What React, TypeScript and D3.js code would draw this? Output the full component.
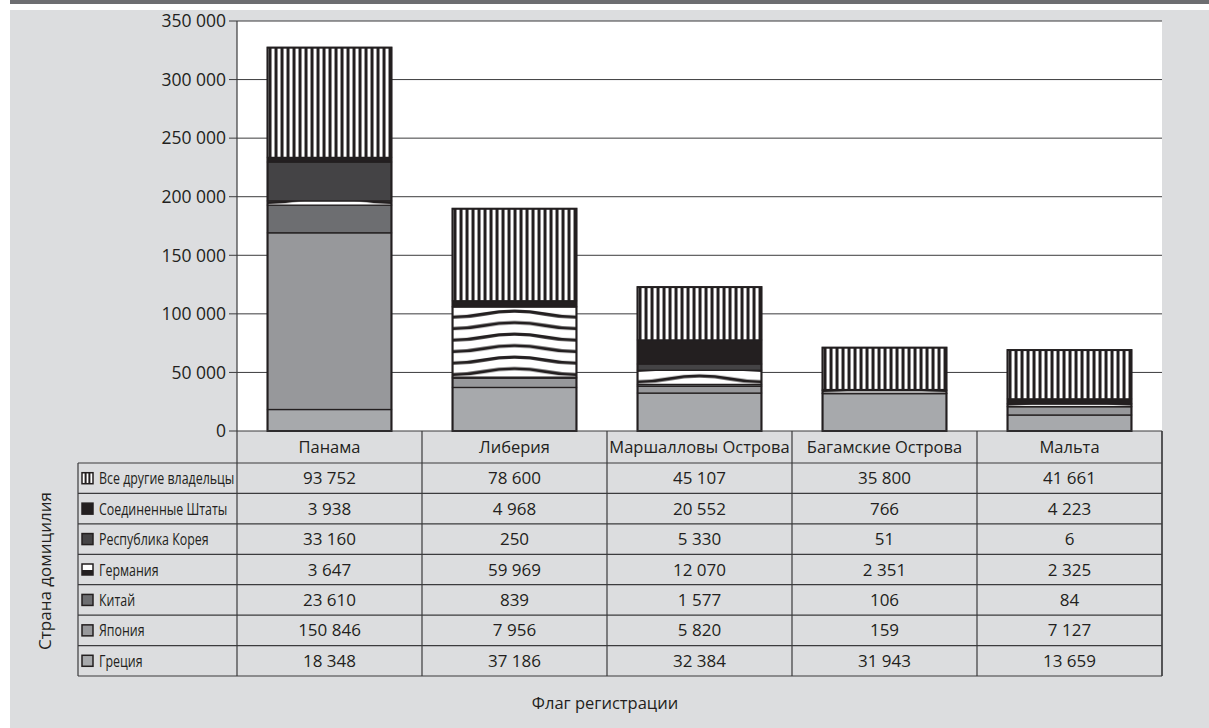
import React from "react";
import * as d3 from "d3";

const categories = ["Панама", "Либерия", "Маршалловы Острова", "Багамские Острова", "Мальта"];

// series values (per category)
const greece = [18348, 37186, 32384, 31943, 13659];
const japan = [150846, 7956, 5820, 159, 7127];
const china = [23610, 839, 1577, 106, 84];
const germany = [3647, 59969, 12070, 2351, 2325];
const korea = [33160, 250, 5330, 51, 6];
const usa = [3938, 4968, 20552, 766, 4223];
const others = [93752, 78600, 45107, 35800, 41661];

const seriesNames = ["Греция", "Япония", "Китай", "Германия", "Республика Корея", "Соединенные Штаты", "Все другие владельцы"];
const seriesKeys = ["greece", "japan", "china", "germany", "korea", "usa", "others"];
const seriesValues = [greece, japan, china, germany, korea, usa, others];

const yTicks = [0, 50000, 100000, 150000, 200000, 250000, 300000, 350000];

const W = 1209;
const H = 728;
const plotL = 237;
const plotR = 1162;
const plotT = 21;
const plotB = 431;
const headerB = 463;
const tableB = 676;
const tableL = 78;

const ink = "#231f20";
const bg = "#dcdddf";

const fmt = d3.formatLocale({ decimal: ",", thousands: " ", grouping: [3], currency: ["", ""] }).format(",d");

const solidFill: Record<string, string> = {
  greece: "#a7a9ac",
  japan: "#97989b",
  china: "#6d6e71",
  korea: "#444345",
  usa: "#231f20",
};

export default function App() {
  const x = d3.scaleBand<string>().domain(categories).range([plotL, plotR]).paddingInner(0.33).paddingOuter(0.165);
  const colStep = (plotR - plotL) / categories.length;
  const y = d3.scaleLinear().domain([0, 350000]).range([plotB, plotT]);

  const rows = categories.map((c, i) => {
    const r: Record<string, any> = { cat: c };
    seriesKeys.forEach((k, j) => (r[k] = seriesValues[j][i]));
    return r;
  });
  const stacked = d3.stack<any>().keys(seriesKeys)(rows);

  const fillFor = (key: string, ci: number) => {
    if (key === "germany") return `url(#wave-${ci})`;
    if (key === "others") return `url(#stripe-${ci})`;
    return solidFill[key];
  };

  const tableOrder = [...seriesKeys.map((k, j) => j)].reverse();
  const rowH = (tableB - headerB) / tableOrder.length;

  const font = "'Open Sans', 'DejaVu Sans', sans-serif";

  return (
    <svg width={W} height={H} style={{ position: "absolute", left: 0, top: 0 }} xmlns="http://www.w3.org/2000/svg">
      <defs>
        {categories.map((c, ci) => {
          const bx = x(c)!;
          const bw = x.bandwidth();
          const ph = 11.5;
          return (
            <React.Fragment key={c}>
              <pattern id={`stripe-${ci}`} patternUnits="userSpaceOnUse" x={bx + 1} y={0} width={6} height={10}>
                <rect x={0} y={0} width={6} height={10} fill="#fff" />
                <rect x={0} y={0} width={3} height={10} fill={ink} />
              </pattern>
              <pattern id={`wave-${ci}`} patternUnits="userSpaceOnUse" x={bx} y={y(greece[ci] + japan[ci] + china[ci])} width={bw} height={ph}>
                <rect x={0} y={0} width={bw} height={ph} fill="#fff" />
                {[-ph, 0, ph].map((o) => (
                  <path
                    key={o}
                    d={`M0,${9 + o} C${bw / 4},${9 + o} ${bw / 4},${3 + o} ${bw / 2},${3 + o} C${(3 * bw) / 4},${3 + o} ${(3 * bw) / 4},${9 + o} ${bw},${9 + o}`}
                    fill="none"
                    stroke={ink}
                    strokeWidth={3.2}
                  />
                ))}
              </pattern>
            </React.Fragment>
          );
        })}
      </defs>

      {/* background */}
      <rect x={10} y={0} width={W - 10} height={4} fill="#6d6e71" />
      <rect x={10} y={10} width={W - 10} height={H - 10} fill={bg} />
      <rect x={plotL} y={plotT} width={plotR - plotL} height={plotB - plotT} fill="#fff" />

      {/* gridlines and ticks */}
      {yTicks.map((t) => (
        <g key={t}>
          {t > 0 && <line x1={plotL} x2={plotR} y1={y(t)} y2={y(t)} stroke="#3b3b3d" strokeWidth={1} />}
          <line x1={plotL - 8} x2={plotL} y1={y(t)} y2={y(t)} stroke="#3b3b3d" strokeWidth={1} />
          <text x={plotL - 11} y={y(t)} dy="0.36em" textAnchor="end" fontFamily={font} fontSize={17.5} fill={ink}>
            {fmt(t)}
          </text>
        </g>
      ))}

      {/* bars */}
      {stacked.map((s) => (
        <g key={s.key}>
          {s.map((d, ci) => (
            <rect
              key={ci}
              x={x(categories[ci])}
              width={x.bandwidth()}
              y={y(d[1])}
              height={Math.max(0, y(d[0]) - y(d[1]))}
              fill={fillFor(s.key, ci)}
              stroke={ink}
              strokeWidth={1.3}
            />
          ))}
        </g>
      ))}
      {categories.map((c, ci) => {
        const top = d3.sum(seriesValues, (v) => v[ci]);
        return (
          <rect key={c} x={x(c)} width={x.bandwidth()} y={y(top)} height={y(0) - y(top)} fill="none" stroke={ink} strokeWidth={2} />
        );
      })}

      {/* axes lines */}
      <line x1={plotL} x2={plotL} y1={plotT} y2={tableB} stroke="#3b3b3d" strokeWidth={1.2} />
      <line x1={plotL} x2={plotR} y1={plotB} y2={plotB} stroke="#3b3b3d" strokeWidth={1.2} />

      {/* data table */}
      <g fontFamily={font} fill={ink}>
        {categories.map((c, ci) => (
          <g key={c}>
            <line x1={plotL + colStep * (ci + 1)} x2={plotL + colStep * (ci + 1)} y1={plotB} y2={tableB} stroke="#3b3b3d" strokeWidth={1.2} />
            <text x={plotL + colStep * (ci + 0.5)} y={(plotB + headerB) / 2} dy="0.36em" textAnchor="middle" fontSize={16.5}>
              {c}
            </text>
          </g>
        ))}
        {tableOrder.map((sj, ri) => {
          const y0 = headerB + ri * rowH;
          const cy = y0 + rowH / 2;
          const key = seriesKeys[sj];
          const ix = 82;
          const iy = cy - 5.5;
          return (
            <g key={key}>
              <line x1={tableL} x2={plotR} y1={y0} y2={y0} stroke="#3b3b3d" strokeWidth={1.2} />
              {key === "others" ? (
                <g>
                  <rect x={ix} y={iy} width={11} height={11} fill="#fff" stroke={ink} strokeWidth={1.5} />
                  <rect x={ix + 2.6} y={iy} width={2} height={11} fill={ink} />
                  <rect x={ix + 6.4} y={iy} width={2} height={11} fill={ink} />
                </g>
              ) : key === "germany" ? (
                <g>
                  <rect x={ix} y={iy} width={11} height={11} fill="#fff" stroke={ink} strokeWidth={1.5} />
                  <rect x={ix} y={iy + 6} width={11} height={5} fill={ink} />
                </g>
              ) : (
                <rect x={ix} y={iy} width={11} height={11} fill={solidFill[key]} stroke={ink} strokeWidth={1.5} />
              )}
              <text transform={`translate(99,${cy}) scale(0.73,1)`} dy="0.36em" fontSize={17}>
                {seriesNames[sj]}
              </text>
              {categories.map((c, ci) => (
                <text key={c} x={plotL + colStep * (ci + 0.5)} y={cy} dy="0.36em" textAnchor="middle" fontSize={17}>
                  {fmt(seriesValues[sj][ci])}
                </text>
              ))}
            </g>
          );
        })}
        <line x1={tableL} x2={plotR} y1={tableB} y2={tableB} stroke="#3b3b3d" strokeWidth={1.2} />
        <line x1={tableL} x2={tableL} y1={headerB} y2={tableB} stroke="#3b3b3d" strokeWidth={1.2} />
        <line x1={plotR} x2={plotR} y1={plotB} y2={tableB} stroke="#3b3b3d" strokeWidth={1.2} />
      </g>

      {/* axis titles */}
      <text x={605} y={703} dy="0.36em" textAnchor="middle" fontFamily={font} fontSize={16.5} fill={ink}>
        Флаг регистрации
      </text>
      <text transform="translate(45,571) rotate(-90)" dy="0.36em" textAnchor="middle" fontFamily={font} fontSize={17} fill={ink}>
        Страна домицилия
      </text>
    </svg>
  );
}
